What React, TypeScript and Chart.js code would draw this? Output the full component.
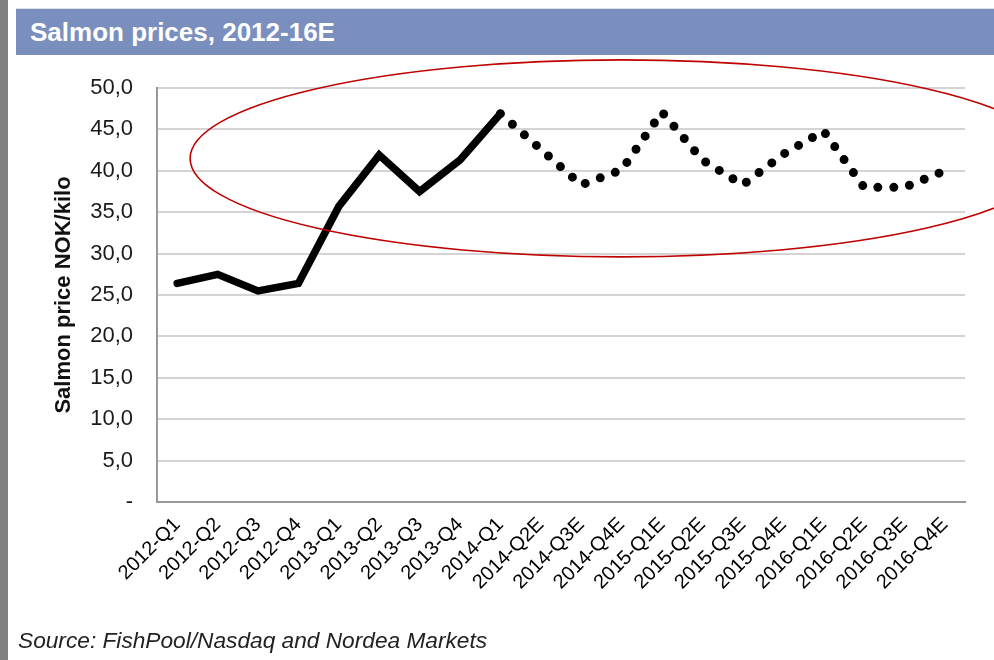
import React, { useEffect, useRef } from 'react';
import { Chart, registerables } from 'chart.js';

Chart.register(...registerables);

const categories = [
  '2012-Q1', '2012-Q2', '2012-Q3', '2012-Q4',
  '2013-Q1', '2013-Q2', '2013-Q3', '2013-Q4',
  '2014-Q1', '2014-Q2E', '2014-Q3E', '2014-Q4E',
  '2015-Q1E', '2015-Q2E', '2015-Q3E', '2015-Q4E',
  '2016-Q1E', '2016-Q2E', '2016-Q3E', '2016-Q4E',
];

const actualPrices = [
  26.4, 27.5, 25.5, 26.4, 35.7, 41.9, 37.5, 41.3, 46.9,
  null, null, null, null, null, null, null, null, null, null, null,
];

const forecastPrices = [
  null, null, null, null, null, null, null, null,
  46.9, 42.6, 38.3, 40.1, 47.1, 41.3, 38.3, 42.0, 44.8, 38.0, 38.0, 40.0,
];

const yTickLabels = ['-', '5,0', '10,0', '15,0', '20,0', '25,0', '30,0', '35,0', '40,0', '45,0', '50,0'];

// highlight ellipse annotation, expressed in axis units
const ellipseCenterIndex = 11;
const ellipseCenterValue = 41.5;
const ellipseLeftIndex = 0.32;
const ellipseTopValue = 53.4;

const FONT = "'Liberation Sans', Arial, Helvetica, sans-serif";

const ellipsePlugin = {
  id: 'highlightEllipse',
  afterDraw(chart: any) {
    const { ctx } = chart;
    const xs = chart.scales.x;
    const ys = chart.scales.y;
    const cx = xs.getPixelForValue(ellipseCenterIndex);
    const cy = ys.getPixelForValue(ellipseCenterValue);
    const rx = cx - xs.getPixelForValue(ellipseLeftIndex);
    const ry = cy - ys.getPixelForValue(ellipseTopValue);
    ctx.save();
    ctx.beginPath();
    ctx.ellipse(cx, cy, rx, ry, 0, 0, Math.PI * 2);
    ctx.strokeStyle = '#c00000';
    ctx.lineWidth = 1.6;
    ctx.stroke();
    ctx.restore();
  },
};

export default function App() {
  const ref = useRef<HTMLCanvasElement | null>(null);

  useEffect(() => {
    if (!ref.current) return;
    const chart = new Chart(ref.current, {
      type: 'line',
      data: {
        labels: categories,
        datasets: [
          {
            data: actualPrices as any,
            borderColor: '#000',
            borderWidth: 7.5,
            pointRadius: 0,
            tension: 0,
            borderCapStyle: 'round',
            borderJoinStyle: 'miter',
            spanGaps: false,
          },
          {
            data: forecastPrices as any,
            borderColor: '#000',
            borderWidth: 9,
            borderDash: [0, 16],
            borderCapStyle: 'round',
            pointRadius: 0,
            tension: 0,
            spanGaps: false,
          },
        ],
      },
      options: {
        animation: false,
        responsive: false,
        maintainAspectRatio: false,
        devicePixelRatio: 1,
        layout: { padding: { left: 38, top: 88, right: 29, bottom: 40 } },
        plugins: {
          legend: { display: false },
          tooltip: { enabled: false },
        },
        scales: {
          x: {
            type: 'category',
            offset: true,
            grid: { display: false, drawTicks: false },
            border: { display: true, color: '#999999', width: 2 },
            ticks: {
              autoSkip: false,
              minRotation: 45,
              maxRotation: 45,
              padding: 11,
              color: '#000',
              font: { family: FONT, size: 20 },
            },
            afterFit: (s: any) => {
              s.height = 118;
            },
          },
          y: {
            min: 0,
            max: 50,
            ticks: {
              stepSize: 5,
              padding: 24,
              color: '#1a1a1a',
              font: { family: FONT, size: 22 },
              callback: (_v: any, i: number) => yTickLabels[i],
            },
            grid: { color: '#d4d4d4', lineWidth: 2, drawTicks: false },
            border: { display: true, color: '#999999', width: 2 },
            title: {
              display: true,
              text: 'Salmon price NOK/kilo',
              color: '#111',
              font: { family: FONT, size: 22, weight: 'bold' },
              padding: { top: 13, bottom: 0 },
            },
            afterFit: (s: any) => {
              s.width = 119;
            },
          },
        },
      },
      plugins: [ellipsePlugin],
    } as any);
    return () => chart.destroy();
  }, []);

  return (
    <div
      style={{
        position: 'fixed',
        left: 0,
        top: 0,
        width: 994,
        height: 660,
        background: '#ffffff',
        overflow: 'hidden',
        fontFamily: FONT,
      }}
    >
      <div style={{ position: 'absolute', left: 0, top: 0, width: 8, height: 660, background: '#808080' }} />
      <div style={{ position: 'absolute', left: 16, top: 8, width: 978, height: 1, background: '#dde1ea' }} />
      <div style={{ position: 'absolute', left: 16, top: 9, width: 978, height: 46, background: '#7b8fbe' }}>
        <span
          style={{
            position: 'absolute',
            left: 14,
            top: 8,
            color: '#ffffff',
            fontWeight: 'bold',
            fontSize: 26,
            lineHeight: '30px',
            whiteSpace: 'nowrap',
          }}
        >
          Salmon prices, 2012-16E
        </span>
      </div>
      <canvas
        ref={ref}
        width={994}
        height={660}
        style={{ position: 'absolute', left: 0, top: 0, width: 994, height: 660 }}
      />
      <div
        style={{
          position: 'absolute',
          left: 18,
          top: 627,
          fontStyle: 'italic',
          fontSize: 22.7,
          lineHeight: '26px',
          color: '#222',
          whiteSpace: 'nowrap',
        }}
      >
        Source: FishPool/Nasdaq and Nordea Markets
      </div>
    </div>
  );
}
